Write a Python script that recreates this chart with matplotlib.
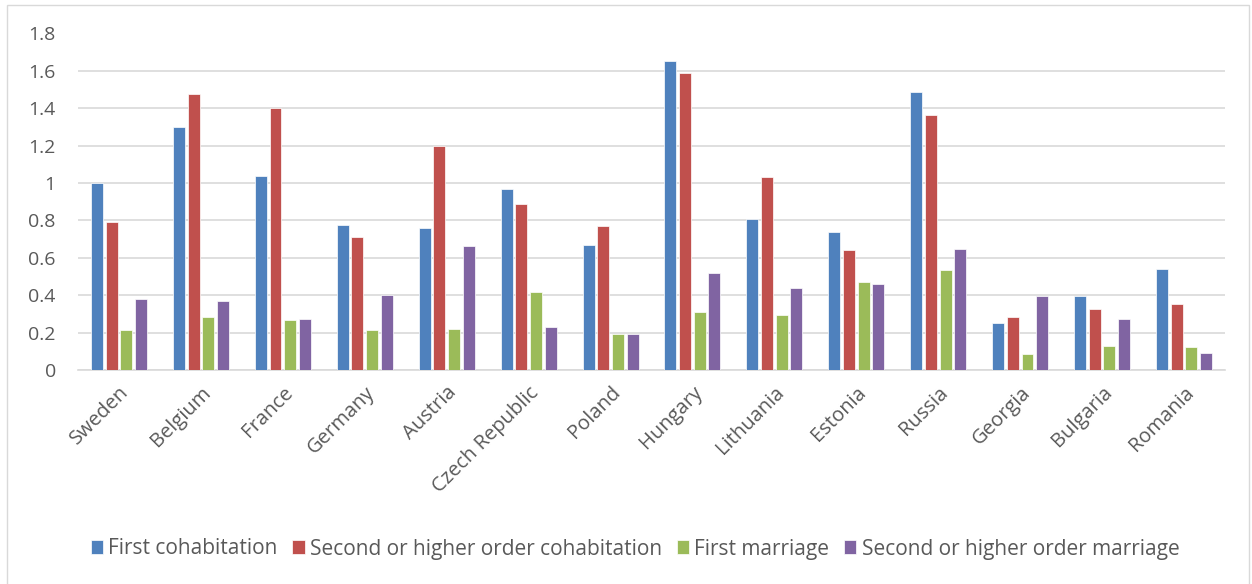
import matplotlib
matplotlib.use("Agg")
import matplotlib.pyplot as plt
import numpy as np

countries = ["Sweden", "Belgium", "France", "Germany", "Austria", "Czech Republic", "Poland",
             "Hungary", "Lithuania", "Estonia", "Russia", "Georgia", "Bulgaria", "Romania"]
first_cohab = [1.00, 1.30, 1.04, 0.775, 0.76, 0.97, 0.667, 1.654, 0.81, 0.74, 1.487, 0.253, 0.396, 0.54]
second_cohab = [0.79, 1.475, 1.40, 0.71, 1.198, 0.888, 0.772, 1.588, 1.032, 0.642, 1.362, 0.283, 0.324, 0.351]
first_marr = [0.214, 0.283, 0.266, 0.216, 0.219, 0.417, 0.193, 0.312, 0.296, 0.472, 0.535, 0.084, 0.127, 0.121]
second_marr = [0.38, 0.369, 0.273, 0.40, 0.663, 0.23, 0.194, 0.52, 0.44, 0.458, 0.645, 0.394, 0.273, 0.091]

series = [("First cohabitation", first_cohab, "#4f81bd"),
          ("Second or higher order cohabitation", second_cohab, "#c0504d"),
          ("First marriage", first_marr, "#9bbb59"),
          ("Second or higher order marriage", second_marr, "#8064a2")]

plt.rcParams['font.family'] = ['Open Sans', 'DejaVu Sans']

fig = plt.figure(figsize=(12.52, 5.84), dpi=100)
ax = fig.add_axes([78 / 1252, 1 - 370 / 584, (1225 - 78) / 1252, (370 - 33.5) / 584])

# outer chart border
fig.add_artist(plt.Rectangle((7 / 1252, -0.01), 1242 / 1252, 1 - 4.5 / 584 + 0.01,
                             transform=fig.transFigure, fill=False, edgecolor="#d9d9d9", lw=1))

x = np.arange(len(countries))
step = 0.179
width = 0.146
for i, (name, vals, col) in enumerate(series):
    ax.bar(x + (i - 1.5) * step, vals, width, color=col, edgecolor="white", linewidth=0.5,
           label=name, zorder=3)

ax.set_xlim(-0.5, len(countries) - 0.5)
ax.set_ylim(0, 1.8)
ax.set_yticks(np.arange(0, 1.81, 0.2))
ax.set_yticklabels(["0", "0.2", "0.4", "0.6", "0.8", "1", "1.2", "1.4", "1.6", "1.8"])
ax.yaxis.grid(True, color="#d9d9d9", linewidth=1.2, zorder=0)
for s in ["top", "right", "left"]:
    ax.spines[s].set_visible(False)
ax.spines["bottom"].set_color("#d9d9d9")
ax.spines["bottom"].set_linewidth(1.2)
ax.tick_params(axis="y", length=0, colors="#595959", labelsize=14, pad=16)
ax.set_xticks(x)
ax.set_xticklabels(countries, rotation=45, ha="right", rotation_mode="anchor")
ax.tick_params(axis="x", length=0, colors="#595959", labelsize=14.5, pad=9)

leg = fig.legend(loc="center", bbox_to_anchor=(635 / 1252, 1 - 549 / 584), ncol=4, frameon=False,
                 fontsize=15, handlelength=0.6, handleheight=0.65, handletextpad=0.25,
                 columnspacing=0.7, labelcolor="#595959")

fig.savefig("out.png", dpi=100)
